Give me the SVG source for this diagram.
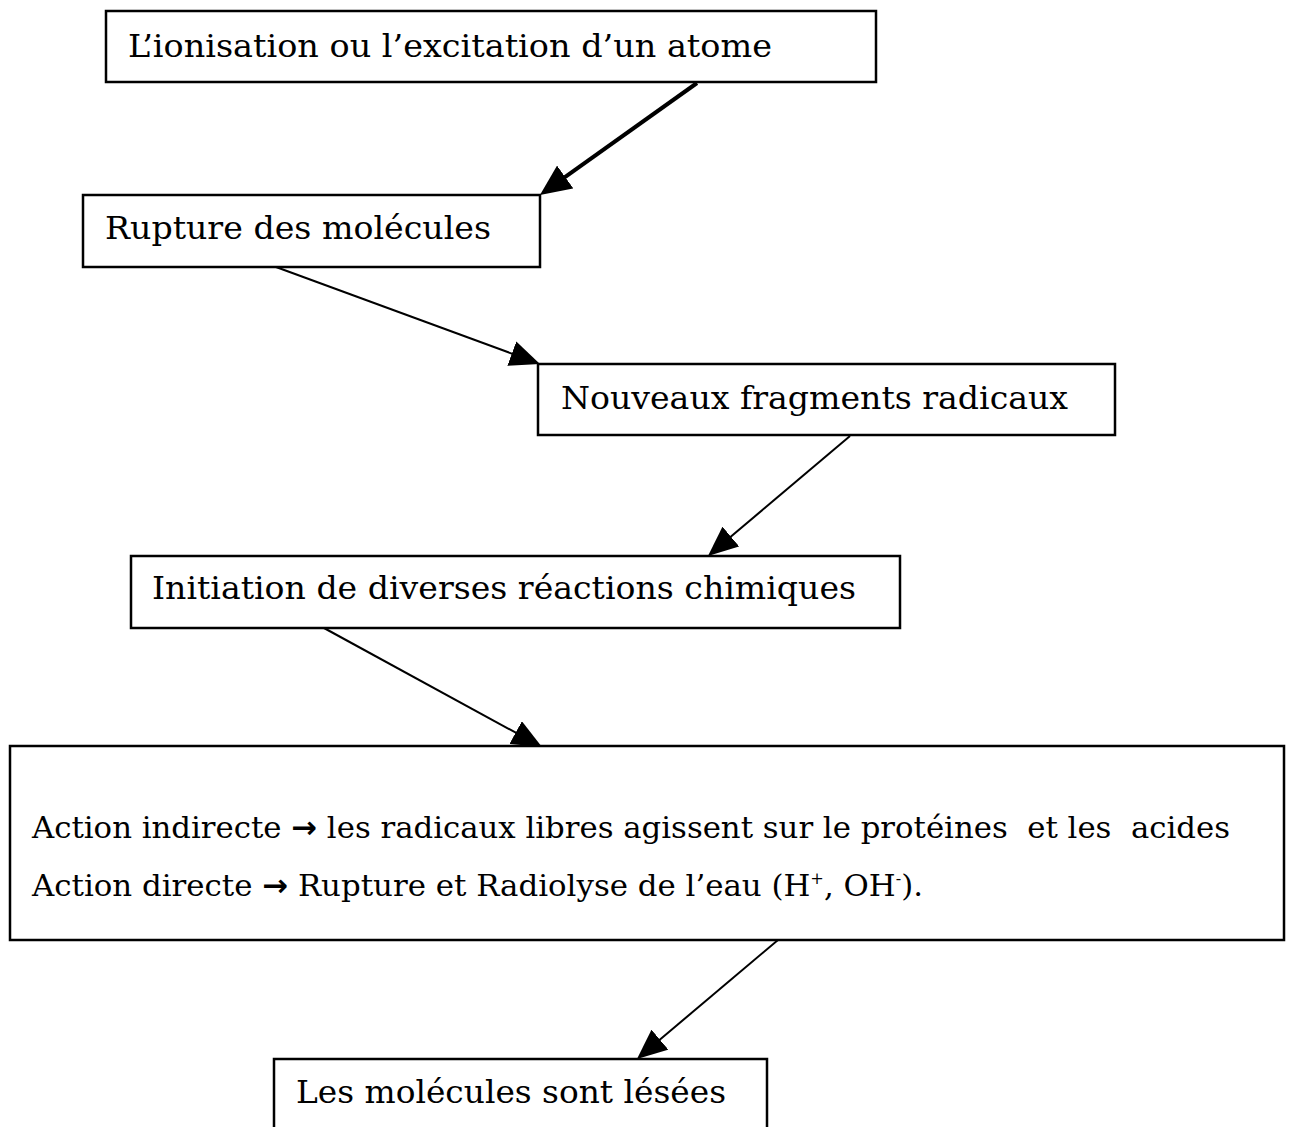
<svg xmlns="http://www.w3.org/2000/svg" width="1289" height="1127" viewBox="0 0 1289 1127">
<style>
  .box { fill: #ffffff; stroke: #000000; stroke-width: 2.5; }
  .t { font-family: "DejaVu Serif", "Liberation Serif", serif; font-size: 31px; fill: #000000; }
  .t2 { font-family: "DejaVu Serif", "Liberation Serif", serif; font-size: 30.5px; fill: #000000; }
  .arr { font-family: "DejaVu Sans", sans-serif; font-weight: bold; }
  .c { stroke: #000000; stroke-width: 2; fill: none; }
  .c-thick { stroke: #000000; stroke-width: 4; fill: none; }
</style>
<defs>
  <marker id="ah" markerUnits="userSpaceOnUse" markerWidth="30" markerHeight="26" refX="20" refY="13" orient="auto">
    <path d="M0,0 L30,13 L0,26 z" fill="#000000"/>
  </marker>
  <marker id="ah-thick" markerUnits="userSpaceOnUse" markerWidth="31" markerHeight="28" refX="21" refY="14" orient="auto">
    <path d="M0,0 L31,14 L0,28 z" fill="#000000"/>
  </marker>
</defs>
<rect width="1289" height="1127" fill="#ffffff"/>
<g id="connectors">
  <line class="c-thick" x1="697" y1="83" x2="548.1" y2="189.2" marker-end="url(#ah-thick)"/>
  <line class="c" x1="276" y1="267" x2="530.6" y2="360.5" marker-end="url(#ah)"/>
  <line class="c" x1="850" y1="436" x2="715.6" y2="549.5" marker-end="url(#ah)"/>
  <line class="c" x1="324" y1="628" x2="533.2" y2="742.2" marker-end="url(#ah)"/>
  <line class="c" x1="778" y1="940" x2="644.6" y2="1052.5" marker-end="url(#ah)"/>
</g>
<g id="node-ionisation">
  <rect class="box" x="106" y="11" width="770" height="71"/>
  <text class="t" x="128" y="57" textLength="644" lengthAdjust="spacingAndGlyphs">L’ionisation ou l’excitation d’un atome</text>
</g>
<g id="node-rupture">
  <rect class="box" x="83" y="195" width="457" height="72"/>
  <text class="t" x="105" y="239" textLength="386" lengthAdjust="spacingAndGlyphs">Rupture des molécules</text>
</g>
<g id="node-fragments">
  <rect class="box" x="538" y="364" width="577" height="71"/>
  <text class="t" x="561" y="409" textLength="507" lengthAdjust="spacingAndGlyphs">Nouveaux fragments radicaux</text>
</g>
<g id="node-initiation">
  <rect class="box" x="131" y="556" width="769" height="72"/>
  <text class="t" x="152" y="599" textLength="704" lengthAdjust="spacingAndGlyphs">Initiation de diverses réactions chimiques</text>
</g>
<g id="node-actions">
  <rect class="box" x="10" y="746" width="1274" height="194"/>
  <text class="t2" x="32" y="838" xml:space="preserve" textLength="1198" lengthAdjust="spacingAndGlyphs">Action indirecte <tspan class="arr">→</tspan> les radicaux libres agissent sur le protéines  et les  acides</text>
  <text class="t2" x="32" y="896" textLength="891" lengthAdjust="spacingAndGlyphs">Action directe <tspan class="arr">→</tspan> Rupture et Radiolyse de l’eau (H<tspan font-size="16" dy="-12">+</tspan><tspan dy="12">, OH</tspan><tspan font-size="16" dy="-12">-</tspan><tspan dy="12">).</tspan></text>
</g>
<g id="node-lesees">
  <rect class="box" x="274" y="1059" width="493" height="100"/>
  <text class="t" x="296" y="1103" textLength="430" lengthAdjust="spacingAndGlyphs">Les molécules sont lésées</text>
</g>
</svg>
